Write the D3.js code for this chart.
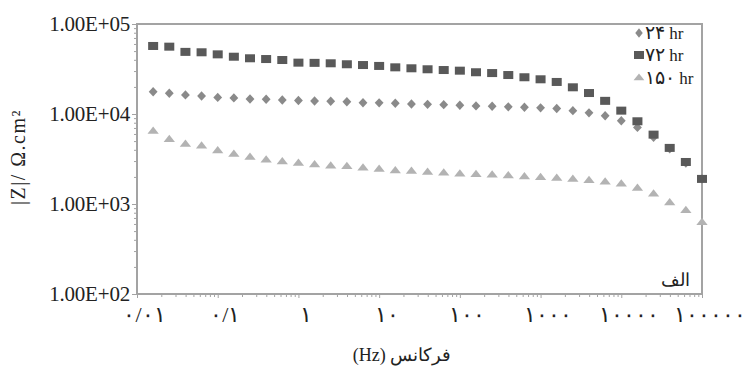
<!DOCTYPE html>
<html>
<head>
<meta charset="utf-8">
<script src="https://cdn.jsdelivr.net/npm/d3@7"></script>
<style>
  body { margin: 0; background: #fff; }
  svg { display: block; }
</style>
</head>
<body>
<div id="chart"></div>
<script>
// frequency (Hz), 5 points per decade
const freq = [0.01585, 0.02512, 0.03981, 0.0631, 0.1, 0.1585, 0.2512, 0.3981, 0.631,
  1, 1.585, 2.512, 3.981, 6.31, 10, 15.85, 25.12, 39.81, 63.1,
  100, 158.5, 251.2, 398.1, 631, 1000, 1585, 2512, 3981, 6310,
  10000, 15850, 25120, 39810, 63100, 100000];

// |Z| in ohm.cm2
const z24 = [17700, 17000, 16300, 15850, 15300, 15100, 14700, 14600, 14300, 14100,
  13950, 13840, 13700, 13350, 13300, 13150, 12900, 12800, 12700, 12500,
  12300, 12200, 12000, 11900, 11700, 11500, 10900, 10300, 9550, 8400,
  7100, 5500, 4100, 2850, 1900];
const z72 = [57000, 56000, 49000, 48500, 46000, 43300, 41600, 40800, 39800, 37200,
  37000, 36600, 35700, 35000, 34200, 33000, 32200, 31400, 30800, 30300,
  29100, 28500, 27100, 25600, 24300, 22700, 19800, 17100, 14000, 10900,
  8300, 5900, 4200, 2930, 1900];
const z150 = [6400, 5200, 4600, 4400, 3900, 3570, 3300, 3080, 2950, 2830,
  2730, 2640, 2600, 2510, 2430, 2340, 2310, 2250, 2210, 2150,
  2120, 2090, 2050, 2010, 1960, 1930, 1880, 1820, 1750, 1660,
  1490, 1290, 1030, 843, 620];

const seriesNames = ['۲۴ hr', '۷۲ hr', '۱۵۰ hr'];
const xTickValues = [0.01, 0.1, 1, 10, 100, 1000, 10000, 100000];
const xTickLabels = ['۰/۰۱', '۰/۱', '۱', '۱۰', '۱۰۰', '۱۰۰۰', '۱۰۰۰۰', '۱۰۰۰۰۰'];
const yTickValues = [100, 1000, 10000, 100000];
const yTickLabels = ['1.00E+02', '1.00E+03', '1.00E+04', '1.00E+05'];

const width = 747, height = 372;
const margin = {top: 24, right: 45, bottom: 78, left: 137};
const serif = '"Liberation Serif", "Times New Roman", Times, "DejaVu Serif", serif';

const svg = d3.select('#chart').append('svg')
  .attr('width', width)
  .attr('height', height);

const x = d3.scaleLog()
  .domain([0.01, 100000])
  .range([margin.left, width - margin.right]);

const y = d3.scaleLog()
  .domain([100, 100000])
  .range([height - margin.bottom, margin.top]);

const axisColor = '#a3a3a3';

// minor ticks
svg.append('g')
  .attr('transform', 'translate(' + margin.left + ',0)')
  .call(d3.axisLeft(y).tickValues(y.ticks().filter(d => yTickValues.indexOf(d) < 0)).tickSize(3).tickFormat(''))
  .call(g => g.select('.domain').remove())
  .call(g => g.selectAll('line').attr('stroke', axisColor));

svg.append('g')
  .attr('transform', 'translate(0,' + (height - margin.bottom) + ')')
  .call(d3.axisBottom(x).tickValues(x.ticks().filter(d => xTickValues.indexOf(d) < 0)).tickSize(3).tickFormat(''))
  .call(g => g.select('.domain').remove())
  .call(g => g.selectAll('line').attr('stroke', axisColor));

// major ticks + labels
svg.append('g')
  .attr('transform', 'translate(' + margin.left + ',0)')
  .call(d3.axisLeft(y).tickValues(yTickValues).tickSize(5).tickPadding(2).tickFormat((d, i) => yTickLabels[i]))
  .call(g => g.select('.domain').remove())
  .call(g => g.selectAll('line').attr('stroke', axisColor))
  .call(g => g.selectAll('text')
    .style('font-family', serif)
    .style('font-size', '21px')
    .style('letter-spacing', '-0.2px')
    .attr('fill', '#222'));

svg.append('g')
  .attr('transform', 'translate(0,' + (height - margin.bottom) + ')')
  .call(d3.axisBottom(x).tickValues(xTickValues).tickSize(4).tickPadding(10).tickFormat((d, i) => xTickLabels[i]))
  .call(g => g.select('.domain').remove())
  .call(g => g.selectAll('line').attr('stroke', axisColor))
  .call(g => g.selectAll('text')
    .style('font-family', serif)
    .style('font-size', '22px')
    .attr('dx', 7)
    .attr('dy', '0.65em')
    .attr('fill', '#222'));

// plot frame
svg.append('rect')
  .attr('x', margin.left)
  .attr('y', margin.top)
  .attr('width', width - margin.left - margin.right)
  .attr('height', height - margin.top - margin.bottom)
  .attr('fill', 'none')
  .attr('stroke', axisColor)
  .attr('stroke-width', 2);

const diamond = d3.symbol().type(d3.symbolDiamond).size(40);
const triangle = d3.symbol().type(d3.symbolTriangle).size(42);

// 150 hr - triangles
svg.append('g').selectAll('path')
  .data(freq.map((f, i) => [f, z150[i]]))
  .enter().append('path')
  .attr('d', triangle)
  .attr('transform', d => 'translate(' + x(d[0]) + ',' + y(d[1]) + ') scale(1.15,0.85)')
  .attr('fill', '#b3b3b3');

// 24 hr - diamonds
svg.append('g').selectAll('path')
  .data(freq.map((f, i) => [f, z24[i]]))
  .enter().append('path')
  .attr('d', diamond)
  .attr('transform', d => 'translate(' + x(d[0]) + ',' + y(d[1]) + ') scale(1.3,0.8)')
  .attr('fill', '#8a8a8a');

// 72 hr - squares
svg.append('g').selectAll('rect')
  .data(freq.map((f, i) => [f, z72[i]]))
  .enter().append('rect')
  .attr('x', d => x(d[0]) - 5)
  .attr('y', d => y(d[1]) - 4)
  .attr('width', 10)
  .attr('height', 8)
  .attr('fill', '#595959');

// legend
const legend = svg.append('g');
const legendY = [33, 55, 78];
const legendX = 639;

legend.append('path')
  .attr('d', diamond)
  .attr('transform', 'translate(' + legendX + ',' + legendY[0] + ') scale(1.1,0.8)')
  .attr('fill', '#8a8a8a');
legend.append('rect')
  .attr('x', legendX - 5).attr('y', legendY[1] - 4)
  .attr('width', 10).attr('height', 8)
  .attr('fill', '#595959');
legend.append('path')
  .attr('d', triangle)
  .attr('transform', 'translate(' + legendX + ',' + legendY[2] + ') scale(1.1,0.8)')
  .attr('fill', '#b3b3b3');

const items = legend.selectAll('text')
  .data(seriesNames)
  .enter().append('text')
  .attr('x', legendX + 6)
  .attr('y', (d, i) => legendY[i] + 6)
  .style('font-family', serif)
  .attr('fill', '#222');
items.append('tspan')
  .style('font-size', '19px')
  .text(d => d.split(' ')[0]);
items.append('tspan')
  .style('font-size', '17px')
  .text(d => ' ' + d.split(' ')[1]);

// panel label
svg.append('text')
  .attr('x', width - margin.right - 12)
  .attr('y', height - margin.bottom - 8)
  .attr('text-anchor', 'end')
  .style('font-family', serif)
  .style('font-size', '18px')
  .attr('fill', '#222')
  .text('الف');

// axis titles
svg.append('text')
  .attr('x', 402)
  .attr('y', 361)
  .attr('text-anchor', 'middle')
  .attr('direction', 'rtl')
  .style('font-family', serif)
  .style('font-size', '18px')
  .attr('fill', '#222')
  .text('فرکانس (Hz)');

svg.append('text')
  .attr('transform', 'translate(25,157) rotate(-90)')
  .attr('text-anchor', 'middle')
  .style('font-family', serif)
  .style('font-size', '20px')
  .style('letter-spacing', '1.5px')
  .attr('fill', '#222')
  .text('|Z|/ Ω.cm²');
</script>
</body>
</html>
